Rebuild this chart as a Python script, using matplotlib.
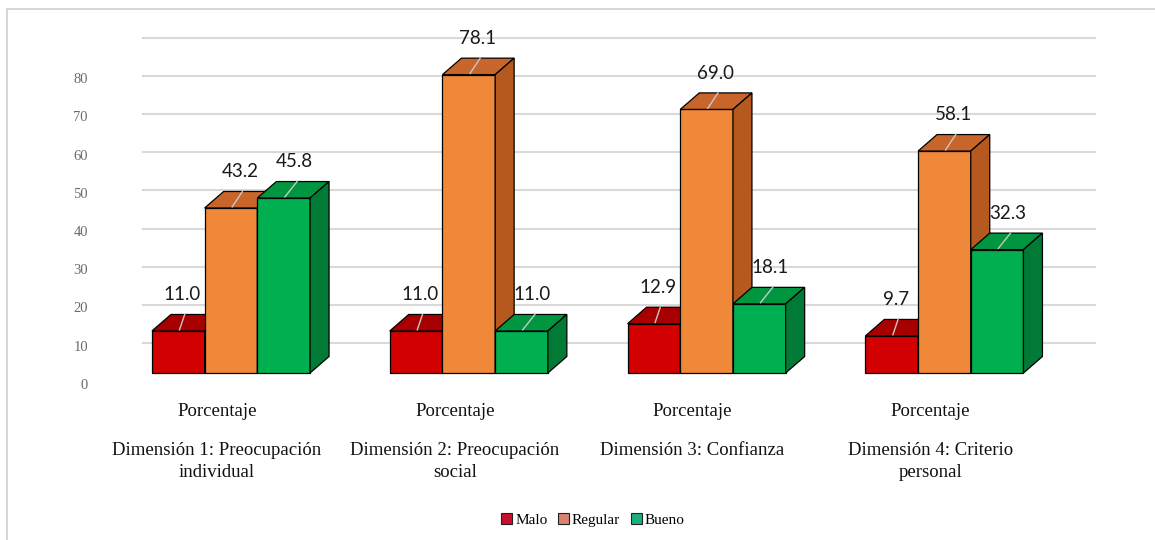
import matplotlib
matplotlib.use("Agg")
import matplotlib.pyplot as plt
from matplotlib.patches import Polygon, Rectangle, Patch
from matplotlib.lines import Line2D

# data
categories = ["Dimensión 1: Preocupación\nindividual",
              "Dimensión 2: Preocupación\nsocial",
              "Dimensión 3: Confianza",
              "Dimensión 4: Criterio\npersonal"]
series_names = ["Malo", "Regular", "Bueno"]
malo = [11.0, 11.0, 12.9, 9.7]
regular = [43.2, 78.1, 69.0, 58.1]
bueno = [45.8, 11.0, 18.1, 32.3]
y_ticks = [0, 10, 20, 30, 40, 50, 60, 70, 80]
grid_vals = [10, 20, 30, 40, 50, 60, 70, 80, 90]

# colours: front, top, side
front_cols = ["#D20000", "#F0883A", "#00B050"]
top_cols = ["#A80000", "#C8652A", "#009640"]
side_cols = ["#8E0000", "#B5591E", "#007A35"]
legend_cols = ["#C8102E", "#D9826E", "#18B078"]
label_shift_px = [4, 9, 11]  # data labels sit a bit to the right, per series

W, H = 1155, 540
fig = plt.figure(figsize=(W / 100, H / 100), dpi=100)
ax = fig.add_axes([0, 0, 1, 1])

# one category step = 237.8 px, one value unit = 3.82 px
px_x = 237.8
px_y = 3.82
x0_px, y0_px = 231, 373
ax.set_xlim(-x0_px / px_x, (W - x0_px) / px_x)
ax.set_ylim((y0_px - H) / px_y, y0_px / px_y)
ax.axis("off")

bar_w = 52.7 / px_x
dx = 19 / px_x
dy = 16.5 / px_y

# outer frame
fig.patches.append(Rectangle((7 / W, -0.1), 1.2, 1 - 9 / H + 0.1, transform=fig.transFigure,
                             fill=False, edgecolor="#D0D0D0", lw=1.2))

# back wall gridlines
for g in grid_vals:
    gy = g - 2.2
    ax.plot([-88 / px_x, 864 / px_x], [gy, gy], color="#D9D9D9", lw=1.5, zorder=1)

# y tick labels
for t in y_ticks:
    ax.text(-143 / px_x, t - 3.2, str(t), ha="right", va="center", fontsize=10.5,
            color="#6B6B6B", family="Liberation Serif")

series = [malo, regular, bueno]
for i in range(len(categories)):
    for j, vals in enumerate(series):
        v = vals[i]
        x0 = i + (j - 1.5) * bar_w
        x1 = x0 + bar_w
        z = 2 + i * 3 + j
        ax.add_patch(Rectangle((x0, 0), bar_w, v, facecolor=front_cols[j],
                               edgecolor="black", lw=0.9, zorder=z))
        ax.add_patch(Polygon([(x0, v), (x1, v), (x1 + dx, v + dy), (x0 + dx, v + dy)],
                             closed=True, facecolor=top_cols[j], edgecolor="black", lw=0.9, zorder=z))
        ax.add_patch(Polygon([(x1, 0), (x1 + dx, dy), (x1 + dx, v + dy), (x1, v)],
                             closed=True, facecolor=side_cols[j], edgecolor="black", lw=0.9, zorder=z))
        xc = (x0 + x1) / 2
        lx = xc + label_shift_px[j] / px_x
        ax.add_line(Line2D([lx + 0.01, xc + 0.005], [v + dy, v + 0.3], color="#C8C8C8",
                           lw=1.0, zorder=40))
        ax.text(lx, v + 9.5, f"{v:.1f}", ha="center", va="center", fontsize=13.5,
                color="#1A1A1A", family=["Lato", "DejaVu Sans"], zorder=50)

# category labels
for i, cat in enumerate(categories):
    cx = i - 14 / px_x
    ax.text(cx, -10.2, "Porcentaje", ha="center", va="center", fontsize=13.5,
            family="Liberation Serif", color="#111111")
    ax.text(cx, -18.0, cat, ha="center", va="top", fontsize=13.5, linespacing=1.4,
            family="Liberation Serif", color="#111111")

handles = [Patch(facecolor=c, edgecolor="#222222", lw=0.8) for c in legend_cols]
fig.legend(handles, series_names, loc="center", bbox_to_anchor=(593 / W, 1 - 520 / H),
           ncol=3, frameon=False, handlelength=0.7, handleheight=0.7, handletextpad=0.2,
           columnspacing=0.7, prop={"family": "Liberation Serif", "size": 11})

fig.savefig("out.png", dpi=100)
